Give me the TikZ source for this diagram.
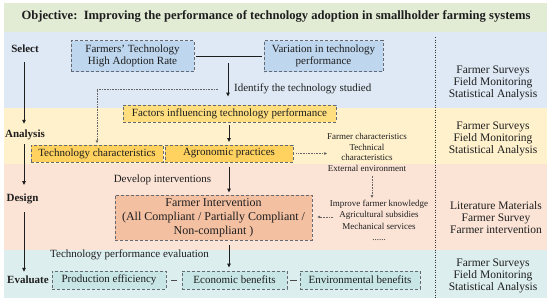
\documentclass[tikz,border=0pt]{standalone}
\usepackage{fontspec}
\setmainfont{Liberation Serif}
\usetikzlibrary{arrows.meta,calc}
\definecolor{titlebg}{RGB}{226,236,212}
\definecolor{bluebg}{RGB}{222,233,245}
\definecolor{bluebox}{RGB}{190,214,238}
\definecolor{yellowbg}{RGB}{255,241,204}
\definecolor{yellowbox}{RGB}{255,210,95}
\definecolor{factbox}{RGB}{255,222,128}
\definecolor{peachbg}{RGB}{251,228,214}
\definecolor{peachbox}{RGB}{244,192,162}
\definecolor{tealbg}{RGB}{221,238,238}
\definecolor{tealbox}{RGB}{200,230,230}
\definecolor{dashc}{RGB}{100,105,115}
\definecolor{inkc}{RGB}{30,30,30}
\begin{document}
\begin{tikzpicture}[x=1pt,y=-1pt,
  dbox/.style={draw=dashc, line width=0.9pt, dash pattern=on 3pt off 2pt, inner sep=0pt, align=center, text=inkc, font=\fontsize{11}{12.5}\selectfont},
  lbl/.style={inner sep=0pt, text=inkc, font=\bfseries\fontsize{11}{12.5}\selectfont, text height=8pt, text depth=2.5pt},
  txt/.style={inner sep=0pt, text=inkc, align=center, font=\fontsize{11}{12}\selectfont},
  rtxt/.style={inner sep=0pt, text=inkc, align=center, font=\fontsize{11.5}{12}\selectfont},
  small/.style={inner sep=0pt, text=inkc, align=center, font=\fontsize{9}{10.5}\selectfont},
  arr/.style={draw=inkc, line width=1pt, -{Triangle[length=4pt,width=3.5pt]}},
  darr/.style={draw=black!60, line width=0.6pt, dash pattern=on 0.8pt off 0.8pt, -{Triangle[length=2.6pt,width=2.6pt]}},
  link/.style={draw=inkc, line width=1pt}
]
\useasboundingbox (0,0) rectangle (550,303);
% bands
\fill[titlebg] (4,3) rectangle (547,32);
\fill[bluebg] (4,32) rectangle (547,108);
\fill[yellowbg] (4,108) rectangle (547,164);
\fill[peachbg] (4,164) rectangle (547,250);
\fill[tealbg] (4,250) rectangle (547,298);
% separator
\coordinate (sepT) at (435,37);
\coordinate (sepB) at (435,298);
\draw[line width=0.8pt, dash pattern=on 1pt off 1.5pt, draw=black!80] (sepT) -- (sepB);
% title
\node[inner sep=0pt, text=inkc, font=\bfseries\fontsize{12.6}{14}\selectfont] (title) at (276,16) {Objective:\ \ Improving the performance of technology adoption in smallholder farming systems};
% stage labels
\node[lbl] (select) at (25,50) {Select};
\node[lbl] (analysis) at (25,135) {Analysis};
\node[lbl] (design) at (22.5,199) {Design};
\node[lbl] (evaluate) at (28,281) {Evaluate};
\coordinate (lx) at (24,0);
\draw[arr, shorten <=6.75pt, shorten >=5.75pt] (select.south -| lx) -- (analysis.north -| lx);
\draw[arr, shorten <=3.75pt, shorten >=8.5pt] (analysis.south -| lx) -- (design.north -| lx);
\draw[arr, shorten <=7.75pt, shorten >=3.75pt] (design.south -| lx) -- (evaluate.north -| lx);
% select
\node[dbox, fill=bluebox, minimum width=123pt, minimum height=31pt] (b1) at (132.5,56) {Farmers’ Technology\\High Adoption Rate};
\node[dbox, fill=bluebox, minimum width=119pt, minimum height=31pt] (b2) at (323.5,56) {Variation in technology\\performance};
\draw[link, shorten <=1.5pt, shorten >=1.5pt] (b1) -- (b2);
\node[txt, anchor=west] (identify) at (234,89) {Identify the technology studied};
% analysis
\node[dbox, fill=factbox, minimum width=213pt, minimum height=17pt] (fact) at (229.5,113.5) {Factors influencing technology performance};
\coordinate (idtop) at (228,63);
\coordinate (idl) at (218,89);
\draw[arr, shorten >=8pt] (idtop) -- (idtop |- fact.north);
\node[dbox, fill=yellowbox, minimum width=132pt, minimum height=17pt] (tc) at (97,153.5) {Technology characteristics};
\node[dbox, fill=yellowbox, minimum width=128pt, minimum height=17pt] (agro) at (229,153.5) {Agronomic practices};
\draw[darr, shorten >=1.5pt] (idl) -| (tc.north);
\draw[arr, shorten <=3pt, shorten >=2.5pt] (fact.south -| agro.north) -- (agro.north);
\node[small] (flist) at (367,152.5) {Farmer characteristics\\Technical\\characteristics\\External environment};
\draw[darr, shorten <=3pt] (agro.east) -- (flist.west |- agro.east);
% design
\node[txt] (develop) at (162.5,180) {Develop interventions};
\node[dbox, fill=peachbox, minimum width=197pt, minimum height=45pt, font=\fontsize{12}{14}\selectfont] (interv) at (213.5,217.5) {Farmer Intervention\\(All Compliant / Partially Compliant /\\Non-compliant )};
\draw[arr, shorten <=5pt, shorten >=2pt] (agro.south) -- (agro.south |- interv.north);
\node[small, font=\fontsize{9}{11.5}\selectfont] (improve) at (379,220.5) {Improve farmer knowledge\\Agricultural subsidies\\Mechanical services\\......};
\coordinate (ax) at (372,0);
\draw[darr, shorten <=4pt, shorten >=2pt] (flist.south -| ax) -- (improve.north -| ax);
\coordinate (impl) at (333,217);
\draw[darr, shorten >=5pt] (impl) -- (interv.east |- impl);
% evaluate
\node[txt, anchor=west] (tpe) at (50,255) {Technology performance evaluation};
\node[dbox, fill=tealbox, minimum width=114pt, minimum height=18pt] (prod) at (109,280) {Production efficiency};
\node[dbox, fill=tealbox, minimum width=105pt, minimum height=18pt] (econ) at (234.5,280) {Economic benefits};
\node[dbox, fill=tealbox, minimum width=120pt, minimum height=18pt] (env) at (360,280) {Environmental benefits};
\draw[arr, shorten <=5pt, shorten >=3pt] (interv.south -| agro.south) -- (econ.north -| agro.south);
\draw[line width=0.6pt, draw=black!70, shorten <=5pt, shorten >=5pt] (prod.east) -- (econ.west);
\draw[line width=0.6pt, draw=black!70, shorten <=2.5pt, shorten >=2.5pt] (econ.east) -- (env.west);
% right column
\node[rtxt] (m1) at (493,83) {Farmer Surveys\\Field Monitoring\\Statistical Analysis};
\node[rtxt] (m2) at (493,138.5) {Farmer Surveys\\Field Monitoring\\Statistical Analysis};
\node[rtxt] (m3) at (496,218) {Literature Materials\\Farmer Survey\\Farmer intervention};
\node[rtxt] (m4) at (493,276) {Farmer Surveys\\Field Monitoring\\Statistical Analysis};
\end{tikzpicture}
\end{document}
